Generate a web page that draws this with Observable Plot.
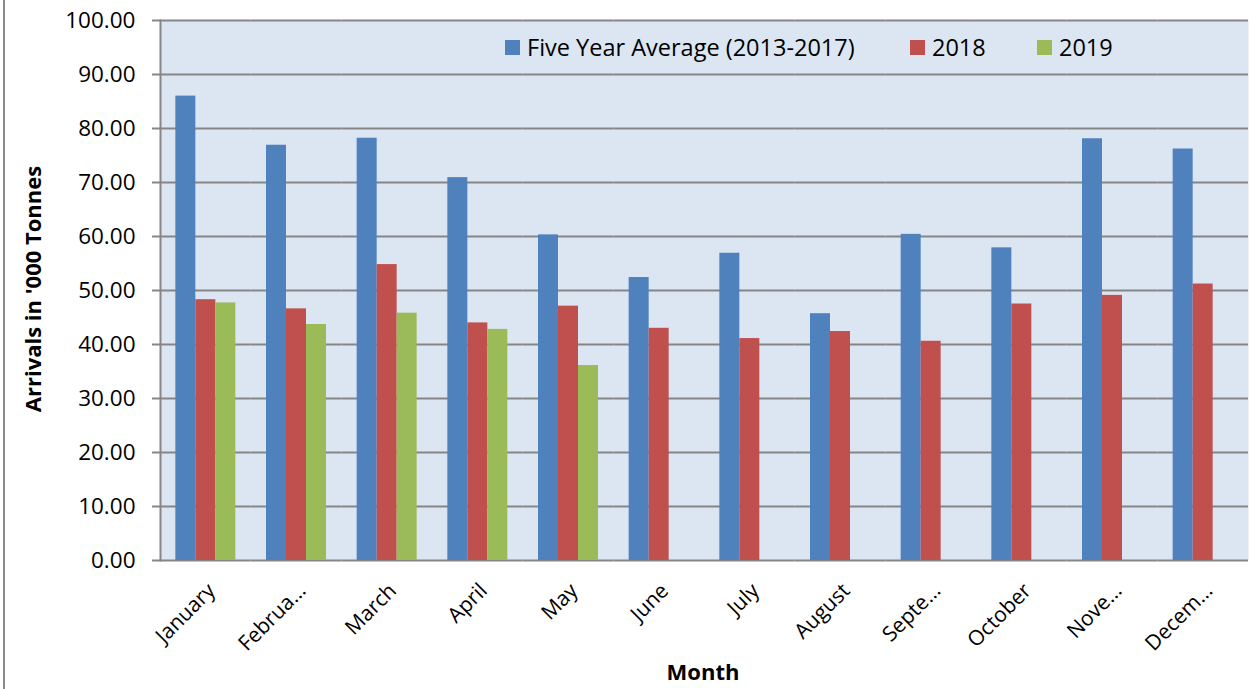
<!DOCTYPE html>
<html>
<head>
<meta charset="utf-8">
<script src="https://cdn.jsdelivr.net/npm/d3@7"></script>
<script src="https://cdn.jsdelivr.net/npm/@observablehq/plot@0.6"></script>
<style>
  html, body { margin: 0; padding: 0; background: #fff; }
  #wrap { position: relative; width: 1250px; height: 689px; overflow: hidden; font-family: "Open Sans", sans-serif; }
  #chart svg { display: block; }
  .leftborder { position: absolute; left: 3px; top: 0; width: 2px; height: 689px; background: #8c8c8c; }
  .legend-item { position: absolute; top: 32px; display: flex; align-items: center; font-size: 23.5px; color: #000; line-height: 30px; white-space: nowrap; }
  .legend-item .sw { width: 15px; height: 15px; margin-right: 7px; }
  .ytitle { position: absolute; left: 32px; top: 289px; transform: translate(-50%, -50%) rotate(-90deg); font-weight: bold; font-size: 22px; white-space: nowrap; color: #000; }
  .xtitle { position: absolute; left: 703px; top: 671px; transform: translate(-50%, -50%); font-weight: bold; font-size: 22px; white-space: nowrap; color: #000; }
</style>
</head>
<body>
<div id="wrap">
  <div id="chart"></div>
  <div class="leftborder"></div>
  <div id="legend"></div>
  <div class="ytitle">Arrivals in '000 Tonnes</div>
  <div class="xtitle">Month</div>
</div>
<script>
const months = ["January","February","March","April","May","June","July","August","September","October","November","December"];
const tickLabels = ["January","Februa…","March","April","May","June","July","August","Septe…","October","Nove…","Decem…"];
const seriesNames = ["Five Year Average (2013-2017)", "2018", "2019"];
const seriesColors = ["#4f81bd", "#c0504d", "#9bbb59"];
const fiveYearAvg = [86.0, 76.9, 78.2, 70.9, 60.3, 52.4, 56.9, 45.7, 60.4, 57.9, 78.1, 76.2];
const y2018 = [48.3, 46.6, 54.8, 44.0, 47.1, 43.0, 41.1, 42.4, 40.6, 47.5, 49.1, 51.2];
const y2019 = [47.7, 43.7, 45.8, 42.8, 36.1];
const yTicks = [0, 10, 20, 30, 40, 50, 60, 70, 80, 90, 100];

const data = [];
months.forEach((m, i) => {
  data.push({month: m, series: seriesNames[0], value: fiveYearAvg[i]});
  data.push({month: m, series: seriesNames[1], value: y2018[i]});
  if (i < y2019.length) data.push({month: m, series: seriesNames[2], value: y2019[i]});
});

const grid = "#868686";
const chart = Plot.plot({
  width: 1250,
  height: 689,
  marginLeft: 160,
  marginRight: 2,
  marginTop: 20,
  marginBottom: 129,
  style: {fontFamily: "'Open Sans', sans-serif", fontSize: "21px", color: "#000", background: "transparent", overflow: "visible"},
  fx: {domain: months, padding: 0, round: false, label: null},
  x: {domain: seriesNames, paddingInner: 0, paddingOuter: 0.767, round: false, axis: null},
  y: {domain: [0, 100], axis: null},
  color: {domain: seriesNames, range: seriesColors},
  marks: [
    Plot.frame({fill: "#dce6f2", stroke: null, facet: "super"}),
    Plot.ruleY(yTicks, {stroke: grid, strokeWidth: 2}),
    Plot.barY(data, {fx: "month", x: "series", y: "value", fill: "series"}),
    Plot.frame({anchor: "left", stroke: grid, strokeWidth: 2, facet: "super"}),
    Plot.axisY({ticks: yTicks, tickFormat: d => d.toFixed(2), tickSize: 8, tickPadding: 17, stroke: grid, strokeWidth: 2, strokeOpacity: 1, fontSize: 22.5, label: null}),
    Plot.axisFx({anchor: "bottom", rotate: -45, tickSize: 0, tickPadding: 21, textAnchor: "end", fontSize: 21, label: null,
      tickFormat: d => tickLabels[months.indexOf(d)]})
  ]
});
document.getElementById("chart").appendChild(chart);

// legend
const legendPos = [505, 910, 1037];
const legend = document.getElementById("legend");
seriesNames.forEach((s, i) => {
  const item = document.createElement("div");
  item.className = "legend-item";
  item.style.left = legendPos[i] + "px";
  const sw = document.createElement("span");
  sw.className = "sw";
  sw.style.background = seriesColors[i];
  const t = document.createElement("span");
  t.textContent = s;
  item.appendChild(sw);
  item.appendChild(t);
  legend.appendChild(item);
});
</script>
</body>
</html>
